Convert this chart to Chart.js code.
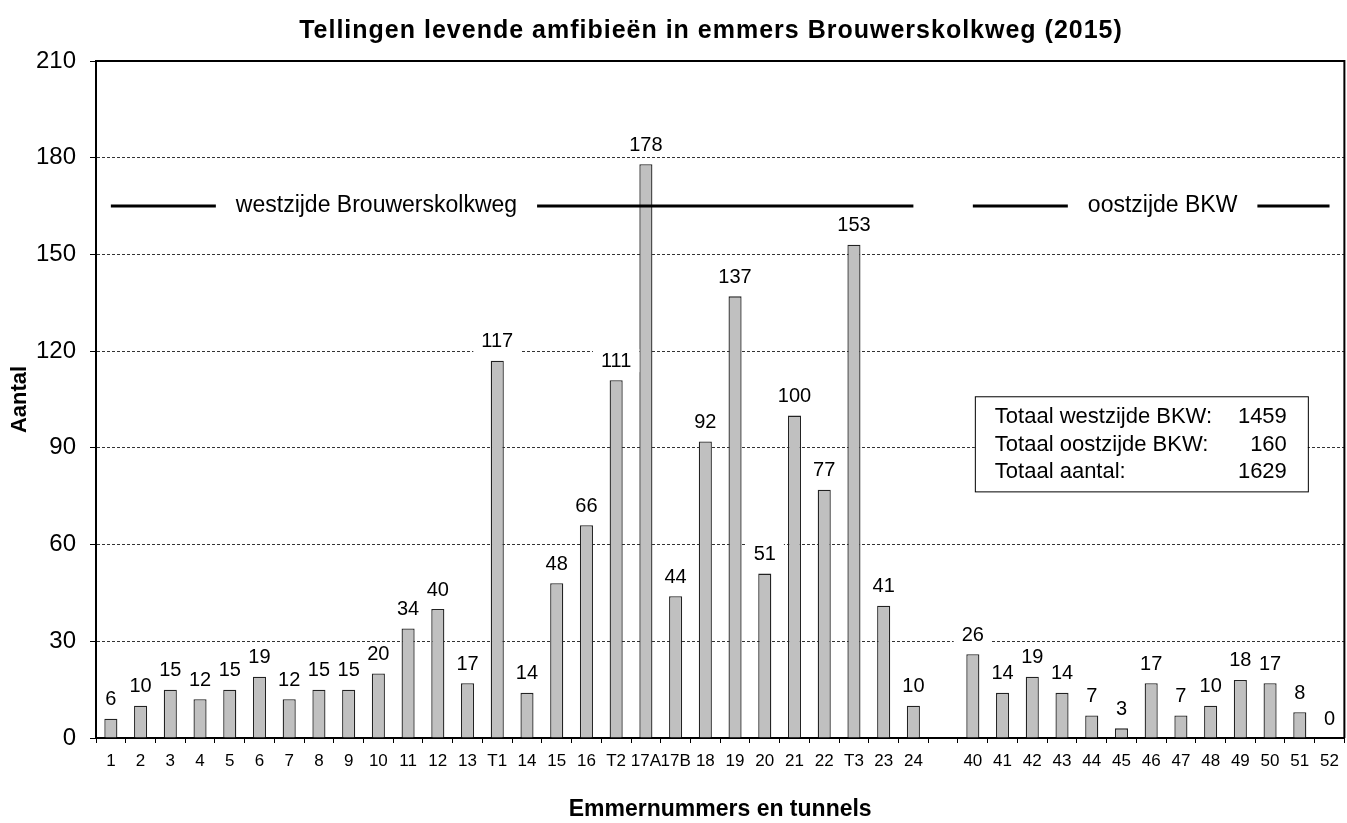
<!DOCTYPE html>
<html>
<head>
<meta charset="utf-8">
<script src="https://cdn.jsdelivr.net/npm/chart.js@4/dist/chart.umd.min.js"></script>
<style>
  html, body { margin: 0; padding: 0; background: #fff; }
  #wrap { width: 1347px; height: 823px; }
</style>
</head>
<body>
<div id="wrap"><canvas id="tellingen"></canvas></div>
<script>
// emmers en tunnels (lege kolom tussen west- en oostzijde)
const labels = ['1','2','3','4','5','6','7','8','9','10','11','12','13','T1','14','15','16','T2','17A','17B','18','19','20','21','22','T3','23','24',
  '',
  '40','41','42','43','44','45','46','47','48','49','50','51','52'];
const aantallen = [6,10,15,12,15,19,12,15,15,20,34,40,17,117,14,48,66,111,178,44,92,137,51,100,77,153,41,10,
  null,
  26,14,19,14,7,3,17,7,10,18,17,8,0];
const yTicks = [0,30,60,90,120,150,180,210];
const totalen = [['Totaal westzijde BKW:', '1459'], ['Totaal oostzijde BKW:', '160'], ['Totaal aantal:', '1629']];
// zijde-markering: eerste en laatste kolom, tekst
const zijden = [[0, 27, 'westzijde Brouwerskolkweg', 125], [29, 41, 'oostzijde BKW', 115]];
const zijdeHoogte = 165;
const titel = 'Tellingen levende amfibieën in emmers Brouwerskolkweg (2015)';

const FONT = '"Liberation Sans", Arial, sans-serif';

// titel iets breder gespatieerd, zoals in het origineel
const titelPlugin = {
  id: 'titel',
  afterDraw(chart) {
    const ctx = chart.ctx;
    ctx.save();
    ctx.font = 'bold 25px ' + FONT;
    ctx.letterSpacing = '1px';
    ctx.fillStyle = '#000';
    ctx.textAlign = 'left';
    ctx.textBaseline = 'middle';
    const w = ctx.measureText(titel).width;
    ctx.fillText(titel, 711 - w / 2, 31);
    ctx.restore();
  }
};

// waarden boven de staven, met wit vlak erachter
const waardeLabels = {
  id: 'waardeLabels',
  afterDatasetsDraw(chart) {
    const ctx = chart.ctx;
    const meta = chart.getDatasetMeta(0);
    ctx.save();
    ctx.font = '20px ' + FONT;
    ctx.textAlign = 'center';
    ctx.textBaseline = 'middle';
    meta.data.forEach((bar, i) => {
      const v = aantallen[i];
      if (v === null) return;
      const txt = String(v);
      const w = ctx.measureText(txt).width;
      const cy = bar.y - 19;
      ctx.fillStyle = '#fff';
      ctx.fillRect(bar.x - w / 2 - 8, cy - 12, w + 16, 23);
      ctx.fillStyle = '#000';
      ctx.fillText(txt, bar.x, cy);
    });
    ctx.restore();
  }
};

const extra = {
  id: 'extra',
  afterDraw(chart) {
    const ctx = chart.ctx;
    const a = chart.chartArea;
    const x = chart.scales.x, y = chart.scales.y;
    ctx.save();
    // kader boven en rechts
    ctx.strokeStyle = '#000';
    ctx.lineWidth = 2;
    ctx.beginPath();
    ctx.moveTo(a.left, a.top);
    ctx.lineTo(a.right, a.top);
    ctx.lineTo(a.right, a.bottom);
    ctx.stroke();

    // west/oost lijnen
    ctx.font = '23px ' + FONT;
    ctx.textBaseline = 'middle';
    ctx.textAlign = 'left';
    ctx.lineWidth = 3;
    const yy = y.getPixelForValue(zijdeHoogte);
    zijden.forEach(([van, tot, txt, off]) => {
      const x0 = x.getPixelForValue(van), x1 = x.getPixelForValue(tot);
      const tx = x0 + off, w = ctx.measureText(txt).width;
      ctx.beginPath();
      ctx.moveTo(x0, yy); ctx.lineTo(tx - 20, yy);
      ctx.moveTo(tx + w + 20, yy); ctx.lineTo(x1, yy);
      ctx.stroke();
      ctx.fillStyle = '#000';
      ctx.fillText(txt, tx, yy);
    });

    // totalen
    const bx = x.getPixelForValue(29) + 2;
    const by = y.getPixelForValue(106);
    const bh = y.getPixelForValue(76.5) - by;
    const bw = 333;
    ctx.fillStyle = '#fff';
    ctx.fillRect(bx, by, bw, bh);
    ctx.lineWidth = 1;
    ctx.strokeStyle = '#000';
    ctx.strokeRect(bx + 0.5, by + 0.5, bw, bh);
    ctx.font = '22px ' + FONT;
    ctx.fillStyle = '#000';
    totalen.forEach(([t, n], i) => {
      const ty = by + 21 + i * 27.5;
      ctx.textAlign = 'left';
      ctx.fillText(t, bx + 20, ty);
      ctx.textAlign = 'right';
      ctx.fillText(n, bx + 312, ty);
    });
    ctx.restore();
  }
};

new Chart(document.getElementById('tellingen'), {
  type: 'bar',
  data: {
    labels: labels,
    datasets: [{
      data: aantallen,
      backgroundColor: '#c0c0c0',
      borderColor: '#222',
      borderWidth: 1.3,
      barPercentage: 0.44,
      categoryPercentage: 1
    }]
  },
  options: {
    responsive: true,
    maintainAspectRatio: false,
    animation: false,
    layout: { padding: { top: 61, right: 2, bottom: 0, left: 0 } },
    plugins: {
      legend: { display: false },
      tooltip: { enabled: false },
      title: { display: false }
    },
    scales: {
      x: {
        offset: true,
        grid: { display: true, drawOnChartArea: false, offset: true, tickLength: 5, tickColor: '#000', tickWidth: 1 },
        border: { display: true, color: '#000', width: 2 },
        ticks: { color: '#000', font: { family: FONT, size: 17 }, padding: 8, maxRotation: 0, autoSkip: false },
        title: {
          display: true,
          text: 'Emmernummers en tunnels',
          color: '#000',
          font: { family: FONT, size: 23, weight: 'bold' },
          padding: { top: 10, bottom: 0 }
        },
        afterFit(s) { s.height = 85; }
      },
      y: {
        min: 0,
        max: 210,
        afterBuildTicks(s) { s.ticks = yTicks.map(v => ({ value: v })); },
        grid: { color: '#333', lineWidth: 1, tickLength: 6, tickColor: '#000', tickWidth: 1 },
        border: { display: true, color: '#000', width: 2, dash: [3, 2] },
        ticks: { color: '#000', font: { family: FONT, size: 24 }, padding: 14 },
        title: {
          display: true,
          text: 'Aantal',
          color: '#000',
          font: { family: FONT, size: 22, weight: 'bold' },
          padding: { top: 7, bottom: 0 }
        },
        afterFit(s) { s.width = 96; }
      }
    }
  },
  plugins: [waardeLabels, extra, titelPlugin]
});
</script>
</body>
</html>
